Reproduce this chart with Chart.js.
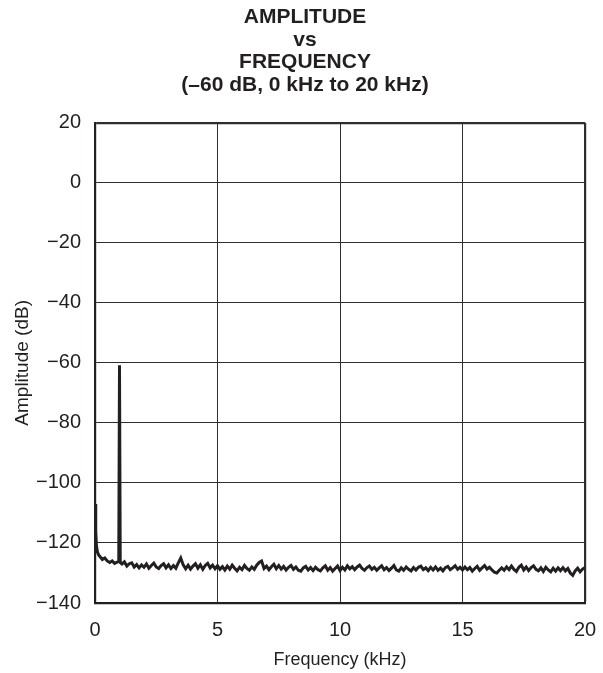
<!DOCTYPE html>
<html>
<head>
<meta charset="utf-8">
<script src="https://cdn.jsdelivr.net/npm/chart.js@4.4.1/dist/chart.umd.min.js"></script>
<style>
html,body{margin:0;padding:0;background:#fff;}
#wrap{width:603px;height:673px;position:relative;}
</style>
</head>
<body>
<div id="wrap"><canvas id="c" width="603" height="673"></canvas></div>
<script>
// Title lines
const titleLines = ['AMPLITUDE', 'vs', 'FREQUENCY', '(\u201360 dB, 0 kHz to 20 kHz)'];
const xAxisTitle = 'Frequency (kHz)';
const yAxisTitle = 'Amplitude (dB)';

// Tick values
const xTicks = [0, 5, 10, 15, 20];
const yTicks = [20, 0, -20, -40, -60, -80, -100, -120, -140];

// Frequency (kHz) and amplitude (dB)
const freqKHz = [
  0.0, 0.03, 0.06, 0.1, 0.15, 0.2, 0.3, 0.4, 0.5, 0.6, 0.7, 0.8, 0.9, 0.97, 1.0, 1.03,
  1.1, 1.2, 1.3, 1.4, 1.5, 1.6, 1.7, 1.8, 1.9, 2.0,
  2.1, 2.2, 2.3, 2.4, 2.5, 2.6, 2.7, 2.8, 2.9, 3.0,
  3.1, 3.2, 3.3, 3.4, 3.5, 3.6, 3.7, 3.8, 3.9, 4.0,
  4.1, 4.2, 4.3, 4.4, 4.5, 4.6, 4.7, 4.8, 4.9, 5.0,
  5.1, 5.2, 5.3, 5.4, 5.5, 5.6, 5.7, 5.8, 5.9, 6.0,
  6.1, 6.2, 6.3, 6.4, 6.5, 6.6, 6.7, 6.8, 6.9, 7.0,
  7.1, 7.2, 7.3, 7.4, 7.5, 7.6, 7.7, 7.8, 7.9, 8.0,
  8.1, 8.2, 8.3, 8.4, 8.5, 8.6, 8.7, 8.8, 8.9, 9.0,
  9.1, 9.2, 9.3, 9.4, 9.5, 9.6, 9.7, 9.8, 9.9, 10.0,
  10.1, 10.2, 10.3, 10.4, 10.5, 10.6, 10.7, 10.8, 10.9, 11.0,
  11.1, 11.2, 11.3, 11.4, 11.5, 11.6, 11.7, 11.8, 11.9, 12.0,
  12.1, 12.2, 12.3, 12.4, 12.5, 12.6, 12.7, 12.8, 12.9, 13.0,
  13.1, 13.2, 13.3, 13.4, 13.5, 13.6, 13.7, 13.8, 13.9, 14.0,
  14.1, 14.2, 14.3, 14.4, 14.5, 14.6, 14.7, 14.8, 14.9, 15.0,
  15.1, 15.2, 15.3, 15.4, 15.5, 15.6, 15.7, 15.8, 15.9, 16.0,
  16.1, 16.2, 16.3, 16.4, 16.5, 16.6, 16.7, 16.8, 16.9, 17.0,
  17.1, 17.2, 17.3, 17.4, 17.5, 17.6, 17.7, 17.8, 17.9, 18.0,
  18.1, 18.2, 18.3, 18.4, 18.5, 18.6, 18.7, 18.8, 18.9, 19.0,
  19.1, 19.2, 19.3, 19.4, 19.5, 19.6, 19.7, 19.8, 19.9, 20.0
];
const amplitudeDb = [
  -107, -116, -121, -123, -124, -124.5, -125.5, -125, -126, -126.5, -126, -126.8, -126.4, -126.2, -60.8, -126.5,
  -127.0, -126.3, -127.7, -126.9, -126.6, -128.0, -127.2, -128.3, -127.3, -128.1,
  -127.0, -128.4, -127.5, -126.7, -128.0, -128.5, -127.5, -126.9, -128.3, -127.3,
  -128.5, -127.5, -128.4, -126.6, -125.0, -127.3, -128.6, -127.4, -128.7, -127.7,
  -126.9, -128.4, -127.3, -128.8, -127.5, -126.8, -128.3, -127.4, -128.6, -127.6,
  -128.8, -127.9, -129.0, -127.7, -128.7, -127.4, -128.4, -129.3, -128.1, -128.9,
  -127.5, -128.5, -129.1, -128.0, -128.8, -127.4, -126.5, -126.0, -128.5, -127.7,
  -128.9, -127.9, -127.1, -128.6, -127.5, -128.7, -127.8, -129.0, -128.1, -127.5,
  -128.8, -128.0, -129.1, -129.4, -128.3, -127.8, -129.0, -128.2, -129.2, -128.1,
  -128.9, -129.3, -128.3, -127.6, -129.1, -128.2, -129.4, -128.5, -127.7, -129.2,
  -128.1, -129.0, -127.6, -128.6, -127.9, -128.9, -128.0, -127.4, -128.5, -129.1,
  -128.2, -127.7, -128.8, -128.1, -129.1, -128.3, -127.6, -128.9, -128.2, -129.2,
  -128.4, -127.5, -129.0, -129.4, -128.3, -129.1, -128.0, -128.8, -129.3, -128.2,
  -129.0, -128.1, -127.7, -128.9, -128.3, -129.2, -128.1, -129.0, -128.0, -129.1,
  -128.4, -129.3, -128.2, -127.8, -128.9, -128.3, -127.6, -128.8, -128.1, -129.0,
  -128.0, -128.9, -128.2, -129.4, -128.5, -127.8, -129.1, -128.3, -127.5, -128.7,
  -128.1, -129.0, -129.7, -130.0, -129.1, -128.3, -129.1, -128.0, -128.9, -127.7,
  -128.8, -129.5, -128.1, -127.4, -129.0, -128.0, -129.2, -128.2, -127.6, -128.8,
  -129.3, -128.3, -129.5, -128.1, -129.0, -129.6, -128.4, -129.4, -128.3, -129.2,
  -128.2, -129.3, -128.5, -130.0, -130.8, -129.3, -128.4, -129.6, -128.7, -128.2
];

const INK = '#231f20';
const GRID = '#2e2e2e';
const FONT = '"Liberation Sans", Arial, Helvetica, sans-serif';

const points = freqKHz.map((f, i) => ({ x: f, y: amplitudeDb[i] }));

new Chart(document.getElementById('c'), {
  type: 'line',
  data: {
    datasets: [{
      data: points,
      borderColor: INK,
      borderWidth: 3,
      pointRadius: 0,
      tension: 0,
      fill: false
    }]
  },
  options: {
    responsive: false,
    animation: false,
    devicePixelRatio: 1,
    layout: { padding: { left: 25, right: 18, top: 0, bottom: 0 } },
    plugins: {
      legend: { display: false },
      tooltip: { enabled: false },
      title: {
        display: true,
        text: titleLines,
        color: INK,
        font: { family: FONT, size: 21, weight: 'bold', lineHeight: 1.08 },
        padding: { top: 6, bottom: 26 }
      }
    },
    scales: {
      x: {
        type: 'linear',
        min: 0, max: 20,
        afterBuildTicks: (s) => { s.ticks = xTicks.map(v => ({ value: v })); },
        afterFit: (s) => { s.height = 70; s.paddingLeft = 0; s.paddingRight = 0; },
        ticks: { color: INK, font: { family: FONT, size: 20 }, padding: 15, maxRotation: 0 },
        grid: {
          color: GRID,
          lineWidth: (c) => (c.tick && c.tick.value === 20 ? 2.2 : 1),
          drawTicks: false
        },
        border: { display: true, color: INK, width: 2.2 },
        title: { display: true, text: xAxisTitle, color: INK, font: { family: FONT, size: 18 }, padding: { top: 0, bottom: 2 } }
      },
      y: {
        type: 'linear',
        min: -140, max: 20,
        afterBuildTicks: (s) => { s.ticks = yTicks.slice().reverse().map(v => ({ value: v })); },
        afterFit: (s) => { s.width = 70; },
        ticks: {
          color: INK, font: { family: FONT, size: 20 }, padding: 14,
          callback: (v) => (v < 0 ? '\u2212' + Math.abs(v) : String(v))
        },
        grid: {
          color: GRID,
          lineWidth: (c) => (c.tick && c.tick.value === 20 ? 2.2 : 1),
          drawTicks: false
        },
        border: { display: true, color: INK, width: 2.2 },
        title: { display: true, text: yAxisTitle, color: INK, font: { family: FONT, size: 19, lineHeight: 1.2 }, padding: { top: -14, bottom: 0 } }
      }
    }
  }
});
</script>
</body>
</html>
